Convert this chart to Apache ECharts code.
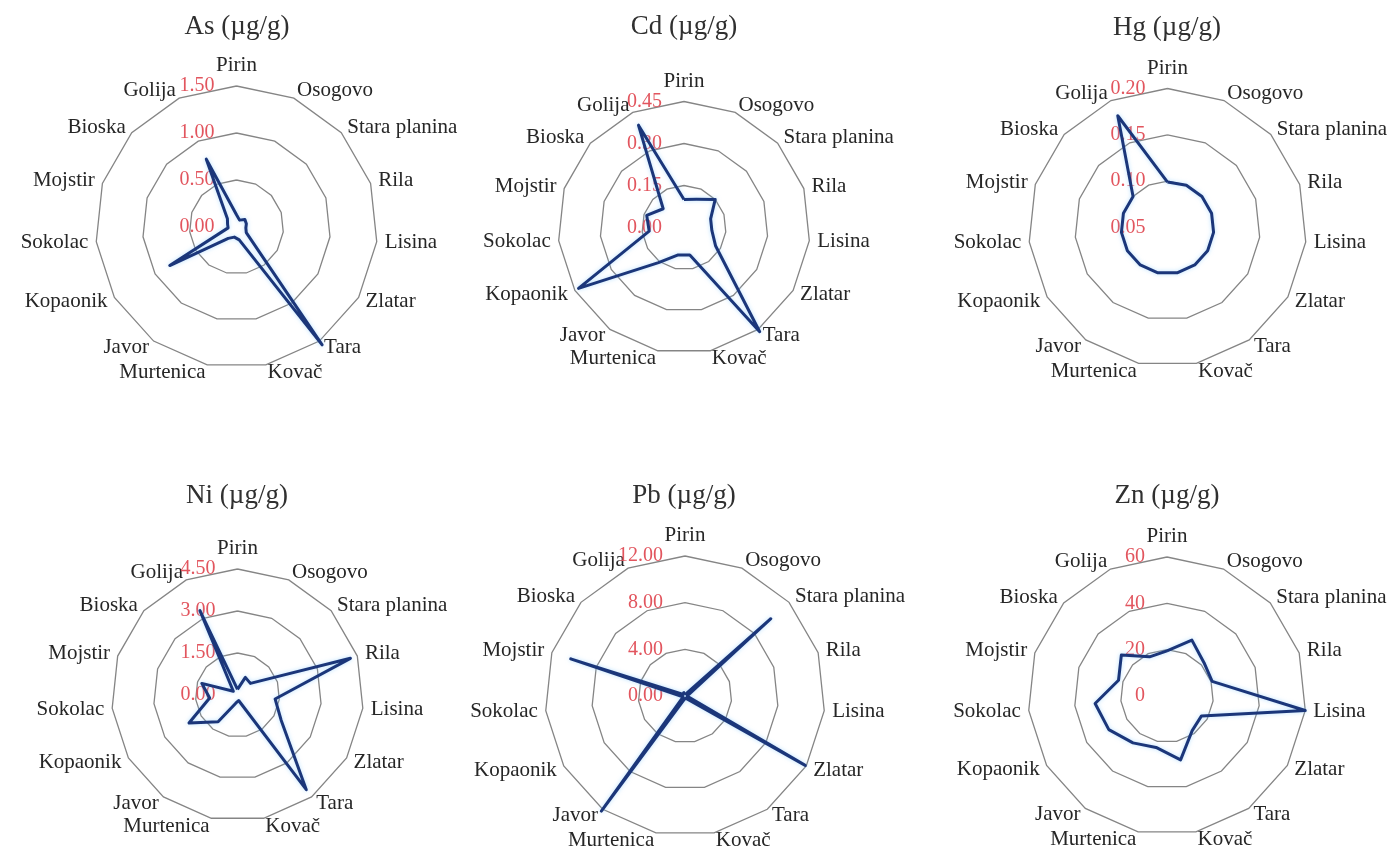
<!DOCTYPE html>
<html>
<head>
<meta charset="utf-8">
<script src="https://cdn.jsdelivr.net/npm/echarts@6/dist/echarts.min.js"></script>
<style>
  html, body { margin: 0; padding: 0; background: #ffffff; }
  #chart { width: 1398px; height: 856px; }
</style>
</head>
<body>
<div id="chart"></div>
<script>
// Sampling sites, listed clockwise starting from the top axis
const sites = ['Pirin', 'Osogovo', 'Stara planina', 'Rila', 'Lisina', 'Zlatar', 'Tara',
  'Kovač', 'Murtenica', 'Javor', 'Kopaonik', 'Sokolac', 'Mojstir', 'Bioska', 'Golija'];

// Element names shown in the panel titles
const elements = ['As', 'Cd', 'Hg', 'Ni', 'Pb', 'Zn'];
const unitText = ' (µg/g)';

// Concentrations (µg/g) per site, same order as `sites`
const asValues = [0.13, 0.08, 0.12, 0.11, 0.10, 0.12, 1.55, 0.14, 0.11, 0.15, 0.82, 0.09, 0.10, 0.13, 0.79];
const cdValues = [0.10, 0.11, 0.15, 0.10, 0.10, 0.13, 0.46, 0.10, 0.10, 0.155, 0.435, 0.125, 0.14, 0.10, 0.40];
const hgValues = [0.099, 0.10, 0.10, 0.10, 0.10, 0.10, 0.10, 0.10, 0.10, 0.10, 0.10, 0.10, 0.10, 0.10, 0.182];
const niValues = [0.2, 0.69, 0.62, 4.24, 1.35, 1.8, 4.18, 0.2, 0.3, 1.18, 2.0, 1.0, 1.34, 0.2, 3.3];
const pbValues = [0.3, 0.2, 9.9, 0.3, 0.2, 11.9, 0.3, 0.2, 0.3, 12.2, 0.2, 0.3, 10.3, 0.2, 0.3];
const znValues = [19.5, 26.4, 21.5, 20.5, 60, 17.2, 18.5, 28.2, 22.7, 25, 29, 31.2, 22, 26.5, 18.5];

// Radial scale of each panel: centre value, outer ring value, label decimals
const scaleMin = [0, 0, 0.05, 0, 0, 0];
const scaleMax = [1.5, 0.45, 0.20, 4.5, 12, 60];
const labelDecimals = [2, 2, 2, 2, 2, 0];

const seriesValues = [asValues, cdValues, hgValues, niValues, pbValues, znValues];

// Panel placement (pixels)
const panelCenters = [[236.5, 227], [684, 227.5], [1167.5, 227.5], [237.5, 695], [685, 696], [1167, 696]];
const panelRadii = [141, 126, 139, 126, 140, 139];
const titleCenters = [[237, 27], [684, 27], [1167, 28], [237, 496], [684, 496], [1167, 496]];

const serif = '"Liberation Serif", "Times New Roman", serif';

// ECharts lays radar axes out counter-clockwise, so feed the sites in reverse
// (after the first) to get them running clockwise from the top.
const order = [0];
for (let k = sites.length - 1; k >= 1; k--) order.push(k);

const titles = elements.map((el, i) => ({
  text: el + unitText,
  left: titleCenters[i][0],
  top: titleCenters[i][1] - 14,
  textAlign: 'center',
  padding: 0,
  textStyle: { fontFamily: serif, fontSize: 27, fontWeight: 'normal', color: '#303030' }
}));

const radars = elements.map((el, i) => ({
  center: panelCenters[i],
  radius: panelRadii[i],
  startAngle: 90,
  shape: 'polygon',
  splitNumber: 3,
  nameGap: 8,
  axisName: { color: '#262626', fontFamily: serif, fontSize: 21 },
  axisLine: { show: false },
  axisTick: { show: false },
  axisLabel: { show: false },
  splitArea: { show: false },
  splitLine: { lineStyle: { color: '#858585', width: 1.3 } },
  indicator: order.map((k, j) => {
    const ind = { name: sites[k], min: scaleMin[i], max: scaleMax[i] };
    if (j === 0) {
      ind.axisLabel = {
        show: true,
        color: '#e2555e',
        fontFamily: serif,
        fontSize: 20,
        margin: 22,
        formatter: (v) => Number(v).toFixed(labelDecimals[i])
      };
    }
    return ind;
  })
}));

const series = elements.map((el, i) => ({
  type: 'radar',
  name: el,
  radarIndex: i,
  symbol: 'none',
  silent: true,
  lineStyle: {
    color: '#1b367a',
    width: 3,
    shadowColor: 'rgba(130, 200, 255, 0.55)',
    shadowBlur: 4
  },
  data: [{ value: order.map((k) => seriesValues[i][k]) }]
}));

const chart = echarts.init(document.getElementById('chart'), null, { renderer: 'canvas' });
chart.setOption({
  animation: false,
  backgroundColor: '#ffffff',
  title: titles,
  radar: radars,
  series: series
});
</script>
</body>
</html>
